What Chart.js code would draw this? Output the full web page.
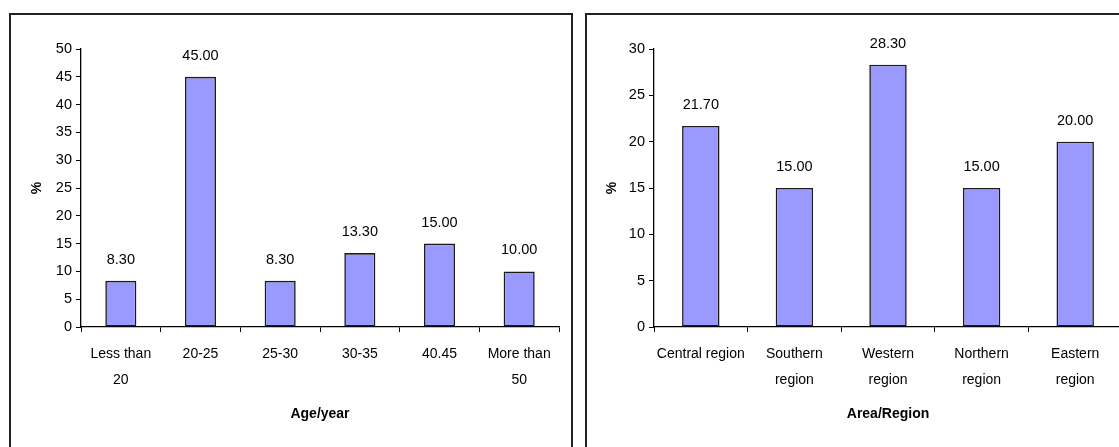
<!DOCTYPE html>
<html>
<head>
<meta charset="utf-8">
<script src="https://cdn.jsdelivr.net/npm/chart.js@4/dist/chart.umd.min.js"></script>
<style>
  html, body { margin: 0; padding: 0; width: 1119px; height: 447px; overflow: hidden; background: #fff; }
  .frame { position: absolute; border: 2px solid #222; box-sizing: border-box; }
  canvas { position: absolute; }
</style>
</head>
<body>
<div class="frame" style="left:9px; top:13px; width:564px; height:450px;"></div>
<div class="frame" style="left:585px; top:13px; width:560px; height:450px;"></div>
<canvas id="ageChart" width="571" height="447" style="left:0; top:0;"></canvas>
<canvas id="regionChart" width="555" height="447" style="left:585px; top:0;"></canvas>
<script>
// data
const ageLabels = [["Less than", "20"], "20-25", "25-30", "30-35", "40.45", ["More than", "50"]];
const ageValues = [8.3, 45, 8.3, 13.3, 15, 10];

const regionLabels = ["Central region", ["Southern", "region"], ["Western", "region"], ["Northern", "region"], ["Eastern", "region"]];
const regionValues = [21.7, 15, 28.3, 15, 20];

const FONT = "'Liberation Sans', Arial, sans-serif";
const TEXT_SIZE = 14;

// value labels above the bars
const barValueLabels = {
  id: "barValueLabels",
  afterDatasetsDraw(chart) {
    const ctx = chart.ctx;
    const meta = chart.getDatasetMeta(0);
    const values = chart.data.datasets[0].data;
    ctx.save();
    ctx.font = `${TEXT_SIZE + 0.5}px ${FONT}`;
    ctx.fillStyle = "#000";
    ctx.textAlign = "center";
    ctx.textBaseline = "middle";
    meta.data.forEach((bar, i) => {
      ctx.fillText(values[i].toFixed(2), bar.x, bar.y - 21);
    });
    ctx.restore();
  },
};

function makeBarChart(canvasID, labels, values, opts) {
  return new Chart(document.getElementById(canvasID), {
    type: "bar",
    data: {
      labels: labels,
      datasets: [
        {
          data: values,
          backgroundColor: "#9999FF",
          borderColor: "#1a1a1a",
          borderWidth: 1.6,
          borderSkipped: false,
          barPercentage: opts.barPct,
          categoryPercentage: 1,
        },
      ],
    },
    options: {
      responsive: false,
      animation: false,
      layout: { padding: { top: 49, left: 0, right: opts.padRight, bottom: 0 } },
      plugins: { legend: { display: false }, tooltip: { enabled: false } },
      scales: {
        x: {
          grid: { drawOnChartArea: false, tickLength: 5, color: "#000", offset: true },
          border: { color: "#000", width: 1.3 },
          ticks: {
            color: "#000",
            autoSkip: false,
            maxRotation: 0,
            padding: 9,
            font: { family: FONT, size: TEXT_SIZE, lineHeight: "26px" },
          },
          title: {
            display: true,
            text: opts.xTitle,
            color: "#000",
            padding: { top: 4, bottom: 24 },
            font: { family: FONT, size: 14, weight: "bold" },
          },
          afterFit: (scale) => { scale.height = 120; },
        },
        y: {
          min: 0,
          max: opts.yMax,
          grid: { drawOnChartArea: false, tickLength: 5, color: "#000" },
          border: { color: "#000", width: 1.3 },
          ticks: {
            stepSize: 5,
            color: "#000",
            padding: 4,
            font: { family: FONT, size: TEXT_SIZE + 0.5 },
          },
          title: {
            display: true,
            text: "%",
            color: "#000",
            padding: { top: opts.yTitlePad, bottom: 0 },
            font: { family: FONT, size: 14, weight: "bold" },
          },
          afterFit: (scale) => { scale.width = opts.yWidth; },
        },
      },
    },
    plugins: [barValueLabels],
  });
}

makeBarChart("ageChart", ageLabels, ageValues, {
  barPct: 0.39, padRight: 12, yMax: 50, yWidth: 81, yTitlePad: 29, xTitle: "Age/year",
});
makeBarChart("regionChart", regionLabels, regionValues, {
  barPct: 0.4, padRight: 18, yMax: 30, yWidth: 69, yTitlePad: 19, xTitle: "Area/Region",
});
</script>
</body>
</html>
